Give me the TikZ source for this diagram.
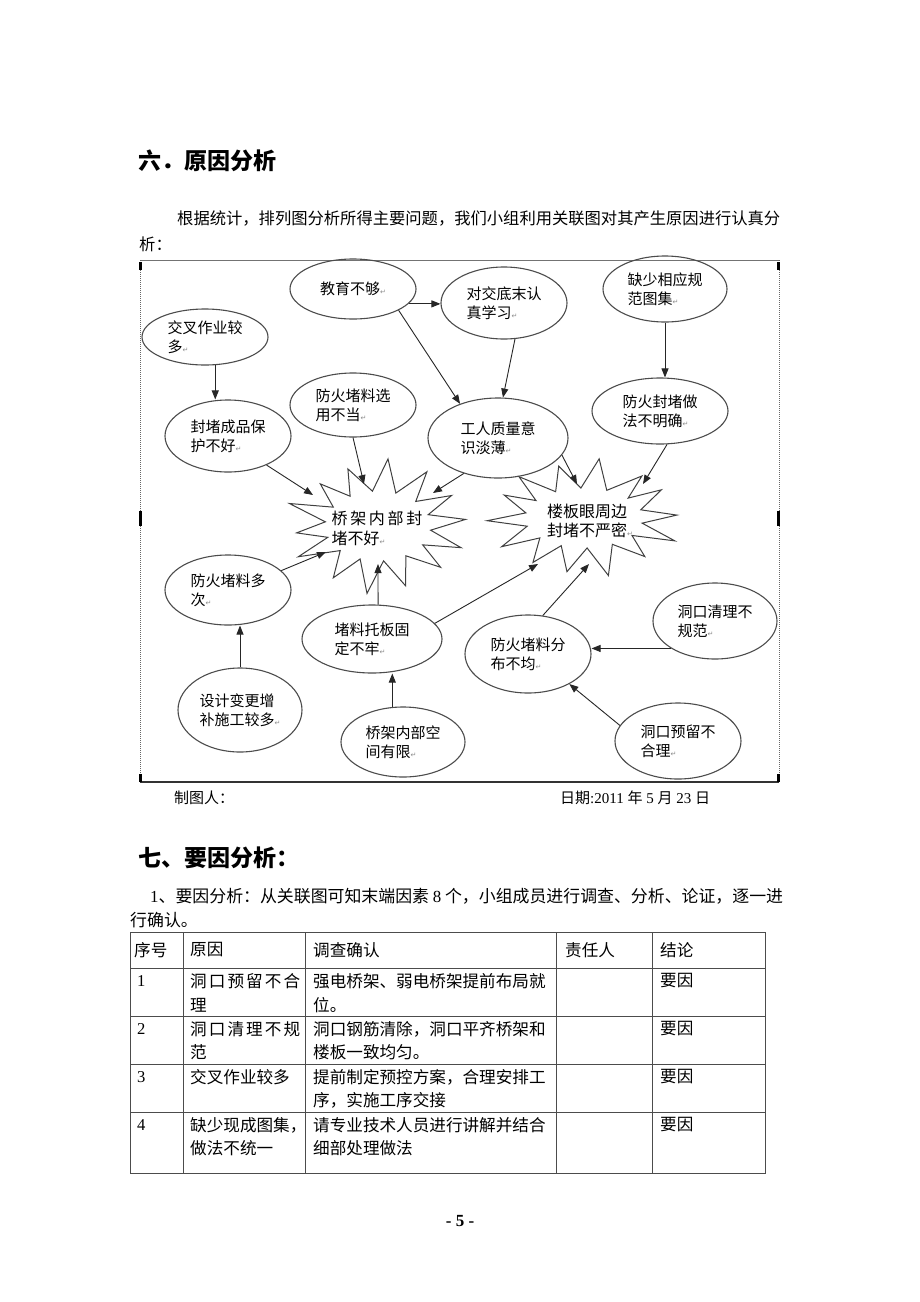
\documentclass[tikz,border=0pt]{standalone}
\usepackage{fontspec}
\setmainfont{Liberation Serif}
\newfontfamily\cjk{Noto Sans CJK SC}
\newfontfamily\symf{DejaVu Sans}
\usetikzlibrary{arrows.meta,shapes.geometric}
\newcommand\parmark{{\symf\fontsize{7}{7}\selectfont\color{black!45}↵}}
\tikzset{
  el/.style={draw=black!70, line width=1.1pt, ellipse, inner sep=0pt, align=left,
    font=\cjk\fontsize{15}{19}\selectfont},
  arr/.style={draw=black!85, line width=0.9pt, -{Triangle[length=9pt,width=7pt]}},
  starline/.style={draw=black!75, line width=1pt, fill=white, line join=miter},
  body/.style={inner sep=0pt, anchor=west, font=\cjk\fontsize{16.3}{16.3}\selectfont},
  head/.style={inner sep=0pt, anchor=west, font=\cjk\bfseries\fontsize{23}{23}\selectfont},
  cell/.style={inner sep=0pt, anchor=west, font=\cjk\fontsize{16.6}{16.6}\selectfont},
  grid/.style={draw=black!70, line width=0.8pt}
}
\begin{document}
\begin{tikzpicture}[x=1pt,y=-1pt]
\useasboundingbox[fill=white] (0,0) rectangle (920,1302);

% headings and text
\node[head] (h6) at (138,161) {六．原因分析};
\node[body] (p1) at (177,218) {根据统计，排列图分析所得主要问题，我们小组利用关联图对其产生原因进行认真分};
\node[body] (p2) at (139,244) {析：};

% frame
\draw[black!55, line width=0.8pt] (140,260) -- (779,260);
\draw[black!80, line width=2pt] (140,782) -- (779,782);
\draw[black!60, line width=0.8pt, dash pattern=on 1pt off 1pt] (140,260) -- (140,782);
\draw[black!60, line width=0.8pt, dash pattern=on 1pt off 1pt] (779,260) -- (779,782);
\foreach \yy/\hh in {262/8, 511/15, 774/8} {
  \fill[black] (139,\yy) rectangle ++(3,\hh);
  \fill[black] (777,\yy) rectangle ++(3,\hh);
}

% stars
\draw[starline] plot[samples at={0,...,27}, variable=\k]
  ({378 + (mod(\k,2)==0 ? 88*(1+0.07*sin(\k*97)) : 53)*cos(\k*360/28+6)},
   {526 - (mod(\k,2)==0 ? 63*(1+0.08*sin(\k*131)) : 35)*sin(\k*360/28+6)}) -- cycle;
\draw[starline] plot[samples at={0,...,27}, variable=\k]
  ({584 + (mod(\k,2)==0 ? 93*(1+0.07*sin(\k*113)) : 59)*cos(\k*360/28+3)},
   {518 - (mod(\k,2)==0 ? 56*(1+0.08*sin(\k*71)) : 30)*sin(\k*360/28+3)}) -- cycle;
\node[align=left, inner sep=0pt, font=\cjk\fontsize{16}{20}\selectfont] (s1) at (377,528) {桥\,架\,内\,部\,封\\堵不好\parmark};
\node[align=left, inner sep=0pt, font=\cjk\fontsize{16}{19}\selectfont] (s2) at (590,521) {楼板眼周边\\封堵不严密\parmark};
\coordinate (s1a) at (313,495);
\coordinate (s1b) at (364,484);
\coordinate (s1c) at (433,493);
\coordinate (s1d) at (326,552);
\coordinate (s1e) at (378,564);
\coordinate (s2a) at (577,484);
\coordinate (s2b) at (643,484);
\coordinate (s2c) at (538,564);
\coordinate (s2d) at (589,564);

% ellipses
\node[el, minimum width=126pt, minimum height=60pt] (jy) at (353,289) {教育不够\parmark};
\node[el, minimum width=126pt, minimum height=72pt] (dj) at (504,303) {对交底末认\\真学习\parmark};
\node[el, minimum width=124pt, minimum height=66pt] (qs) at (665,289) {缺少相应规\\范图集\parmark};
\node[el, minimum width=126pt, minimum height=56pt] (jc) at (205,337) {交叉作业较\\多\parmark};
\node[el, minimum width=126pt, minimum height=64pt] (xy) at (353,405) {防火堵料选\\用不当\parmark};
\node[el, minimum width=126pt, minimum height=72pt] (cp) at (228,436) {封堵成品保\\护不好\parmark};
\node[el, minimum width=140pt, minimum height=80pt] (gr) at (498,438) {工人质量意\\识淡薄\parmark};
\node[el, minimum width=136pt, minimum height=66pt] (zf) at (660,411) {防火封堵做\\法不明确\parmark};
\node[el, minimum width=126pt, minimum height=70pt] (dc) at (228,590) {防火堵料多\\次\parmark};
\node[el, minimum width=140pt, minimum height=68pt] (tb) at (372,639) {堵料托板固\\定不牢\parmark};
\node[el, minimum width=124pt, minimum height=84pt] (sj) at (240,710) {设计变更增\\补施工较多\parmark};
\node[el, minimum width=124pt, minimum height=70pt] (kj) at (403,742) {桥架内部空\\间有限\parmark};
\node[el, minimum width=126pt, minimum height=78pt] (fb) at (528,654) {防火堵料分\\布不均\parmark};
\node[el, minimum width=124pt, minimum height=76pt] (ql) at (715,621) {洞口清理不\\规范\parmark};
\node[el, minimum width=126pt, minimum height=76pt] (yl) at (678,741) {洞口预留不\\合理\parmark};

% arrows
\draw[arr] (jy.-15) -- (jy.-15 -| dj.west);
\draw[arr] (jy.-25) -- (gr.138);
\draw[arr] (dj.-73) -- (gr.83);
\draw[arr] (qs.south) -- (qs.south |- zf.north);
\draw[arr] (jc.-70) -- (jc.-70 |- cp.north);
\draw[arr] (cp.-37) -- (s1a);
\draw[arr] (xy.-90) -- (s1b);
\draw[arr] (gr.-134) -- (s1c);
\draw[arr] (gr.-15) -- (s2a);
\draw[arr] (zf.-78) -- (s2b);
\draw[arr] (dc.20) -- (s1d);
\draw[arr] (tb.80) -- (s1e);
\draw[arr] (tb.14) -- (s2c);
\draw[arr] (fb.69) -- (s2d);
\draw[arr] (sj.north) -- (sj.north |- dc.south);
\draw[arr] (kj.107) -- (kj.107 |- tb.south);
\draw[arr] (ql.-148) -- (ql.-148 -| fb.east);
\draw[arr] (yl.165) -- (fb.-36);

% captions
\node[inner sep=0pt, anchor=west, font=\cjk\fontsize{15}{15}\selectfont] (zt) at (174,798) {制图人：};
\node[inner sep=0pt, anchor=west, font=\fontsize{15}{15}\selectfont] (rq) at (560,798) {{\cjk 日期}:2011 {\cjk 年} 5 {\cjk 月} 23 {\cjk 日}};

% section 7
\node[head] (h7) at (138,858) {七、要因分析：};
\node[body, font=\cjk\fontsize{16.9}{16.9}\selectfont] (q1) at (150,896) {{\rmfamily 1}、要因分析：从关联图可知末端因素 {\rmfamily 8} 个，小组成员进行调查、分析、论证，逐一进};
\node[body, font=\cjk\fontsize{16.9}{16.9}\selectfont] (q2) at (130,920) {行确认。};

% table
\draw[grid] (130,932) rectangle (765,1173);
\foreach \yy in {968,1016,1064,1112} \draw[grid] (130,\yy) -- (765,\yy);
\foreach \xx in {183,305,556,652} \draw[grid] (\xx,932) -- (\xx,1173);

\node[cell] (t00) at (134,950) {序号};
\node[cell] (t01) at (190,950) {原因};
\node[cell] (t02) at (313,950) {调查确认};
\node[cell] (t03) at (565,950) {责任人};
\node[cell] (t04) at (660,950) {结论};

\node[cell, font=\rmfamily\fontsize{16.6}{16.6}\selectfont] (t10) at (137,981) {1};
\node[cell] (t11) at (190,981) {\makebox[110pt][s]{洞\hfill 口\hfill 预\hfill 留\hfill 不\hfill 合}};
\node[cell] (t11b) at (190,1005) {理};
\node[cell] (t12) at (313,981) {强电桥架、弱电桥架提前布局就};
\node[cell] (t12b) at (313,1005) {位。};
\node[cell] (t14) at (660,981) {要因};

\node[cell, font=\rmfamily\fontsize{16.6}{16.6}\selectfont] (t20) at (137,1029) {2};
\node[cell] (t21) at (190,1029) {\makebox[110pt][s]{洞\hfill 口\hfill 清\hfill 理\hfill 不\hfill 规}};
\node[cell] (t21b) at (190,1052) {范};
\node[cell] (t22) at (313,1029) {洞口钢筋清除，洞口平齐桥架和};
\node[cell] (t22b) at (313,1052) {楼板一致均匀。};
\node[cell] (t24) at (660,1029) {要因};

\node[cell, font=\rmfamily\fontsize{16.6}{16.6}\selectfont] (t30) at (137,1077) {3};
\node[cell] (t31) at (190,1077) {交叉作业较多};
\node[cell] (t32) at (313,1077) {提前制定预控方案，合理安排工};
\node[cell] (t32b) at (313,1100) {序，实施工序交接};
\node[cell] (t34) at (660,1077) {要因};

\node[cell, font=\rmfamily\fontsize{16.6}{16.6}\selectfont] (t40) at (137,1125) {4};
\node[cell] (t41) at (190,1125) {缺少现成图集，};
\node[cell] (t41b) at (190,1148) {做法不统一};
\node[cell] (t42) at (313,1125) {请专业技术人员进行讲解并结合};
\node[cell] (t42b) at (313,1148) {细部处理做法};
\node[cell] (t44) at (660,1125) {要因};

\node[inner sep=0pt, font=\rmfamily\bfseries\fontsize{17}{17}\selectfont] (pg) at (460,1221) {- 5 -};
\end{tikzpicture}
\end{document}
